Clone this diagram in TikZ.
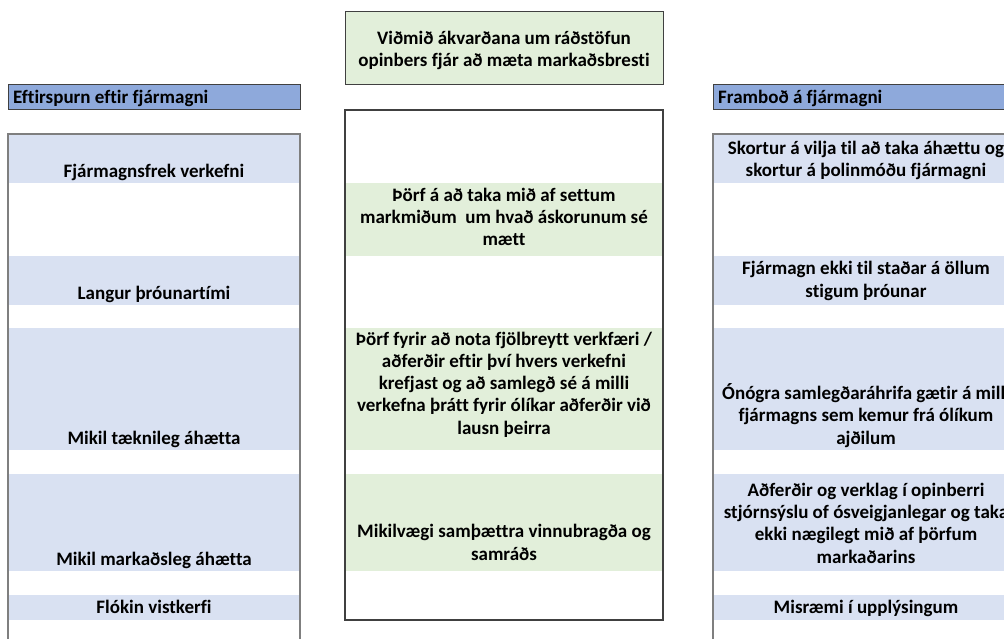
\documentclass[tikz,border=0pt]{standalone}
\usepackage{fontspec}
\setmainfont{Carlito}[Ligatures=NoCommon]
\definecolor{hdrblue}{HTML}{8EA9DB}
\definecolor{bandblue}{HTML}{D9E1F2}
\definecolor{bandgreen}{HTML}{E2EFDA}
\definecolor{colline}{HTML}{7F7F7F}
\definecolor{boxline}{HTML}{404040}
\begin{document}
\begin{tikzpicture}[x=1pt,y=-1pt,
  lbl/.style={font=\fontsize{19}{22.2}\selectfont\bfseries, inner sep=0pt, align=center, anchor=base},
  hlbl/.style={font=\fontsize{19}{22.2}\selectfont\bfseries, inner sep=0pt, anchor=base west},
  hdrbox/.style={fill=hdrblue, draw=boxline, line width=1pt},
  colbox/.style={draw=colline, line width=1.5pt},
  midbox/.style={draw=boxline, line width=1.2pt}]
\useasboundingbox (0,0) rectangle (1004,639);
\clip (0,0) rectangle (1004,639);

% ---------- left column ----------
\path[hdrbox] (8,85) rectangle (300,110);
\foreach \a/\b in {134/183,256/305,328/450,474/571,595/620}
  \fill[bandblue] (8,\a) rectangle (300,\b);
\draw[colbox] (8,660) -- (8,134) -- (300,134) -- (300,660);
\node[hlbl] (lhead) at (13,104) {Eftirspurn eftir fjármagni};
\node[lbl] (l1) at (154,178) {Fjármagnsfrek verkefni};
\node[lbl] (l2) at (154,299) {Langur þróunartími};
\node[lbl] (l3) at (154,444) {Mikil tæknileg áhætta};
\node[lbl] (l4) at (154,565) {Mikil markaðsleg áhætta};
\node[lbl] (l5) at (154,613) {Flókin vistkerfi};

% ---------- middle column ----------
\path[fill=bandgreen, draw=boxline, line width=1pt] (345,12) rectangle (663,85);
\foreach \a/\b in {183/256,328/450,474/571}
  \fill[bandgreen] (345,\a) rectangle (663,\b);
\draw[midbox] (345,110) rectangle (663,620);
\node[lbl] (mhead) at (504,67) {Viðmið ákvarðana um ráðstöfun\\opinbers fjár að mæta markaðsbresti};
\node[lbl] (m1) at (504,246) {Þörf á að taka mið af settum\\markmiðum\ \ um hvað áskorunum sé\\mætt};
\node[lbl] (m2) at (504,434) {Þörf fyrir að nota fjölbreytt verkfæri /\\aðferðir eftir því hvers verkefni\\krefjast og að samlegð sé á milli\\verkefna þrátt fyrir ólíkar aðferðir við\\lausn þeirra};
\node[lbl] (m3) at (504,560) {Mikilvægi samþættra vinnubragða og\\samráðs};

% ---------- right column ----------
\path[hdrbox] (713,85) rectangle (1019,110);
\foreach \a/\b in {134/183,256/305,328/450,474/571,595/620}
  \fill[bandblue] (713,\a) rectangle (1019,\b);
\draw[colbox] (713,660) -- (713,134) -- (1019,134) -- (1019,660);
\node[hlbl] (rhead) at (718,104) {Framboð á fjármagni};
\node[lbl] (r1) at (866,177) {Skortur á vilja til að taka áhættu og\\skortur á þolinmóðu fjármagni};
\node[lbl] (r2) at (866,297) {Fjármagn ekki til staðar á öllum\\stigum þróunar};
\node[lbl] (r3) at (866,444) {Ónógra samlegðaráhrifa gætir á milli\\fjármagns sem kemur frá ólíkum\\ajðilum};
\node[lbl] (r4) at (866,563) {Aðferðir og verklag í opinberri\\stjórnsýslu of ósveigjanlegar og taka\\ekki nægilegt mið af þörfum\\markaðarins};
\node[lbl] (r5) at (866,613) {Misræmi í upplýsingum};
\end{tikzpicture}
\end{document}
